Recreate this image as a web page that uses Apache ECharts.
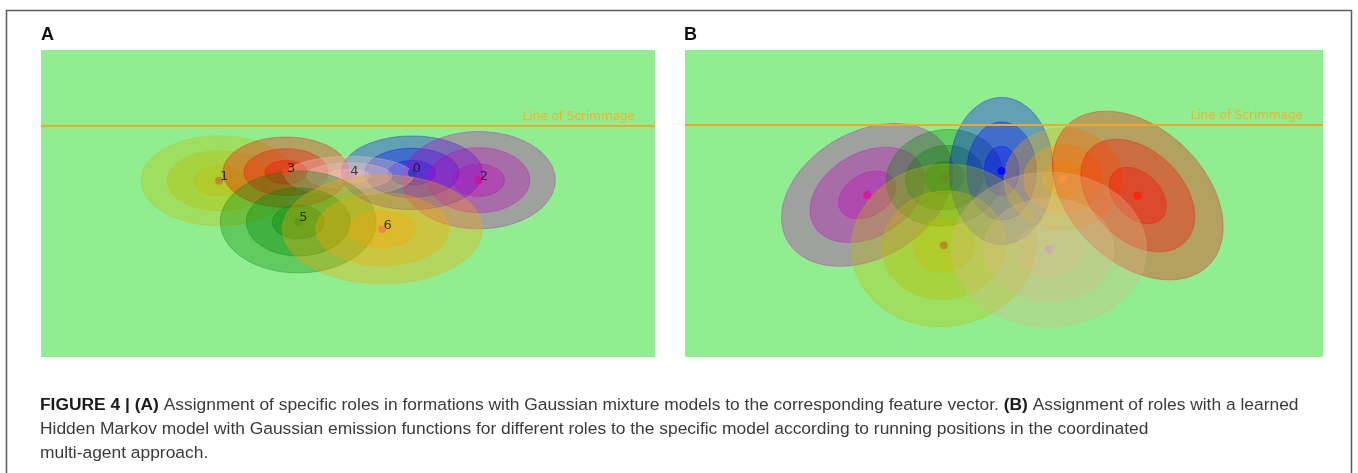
<!DOCTYPE html>
<html>
<head>
<meta charset="utf-8">
<script src="https://cdn.jsdelivr.net/npm/echarts@6/dist/echarts.min.js"></script>
<style>
html, body { margin: 0; padding: 0; background: #ffffff; }
#chart { width: 1358px; height: 473px; }
</style>
</head>
<body>
<div id="chart"></div>
<script>
// Panel A: Gaussian mixture components, one per role (field units)
const rolesA   = ['0', '1', '2', '3', '4', '5', '6'];
const meanXA   = [60.4, 29.0, 71.3, 39.9, 50.2, 41.9, 55.6];
const meanYA   = [30.0, 28.7, 28.8, 30.1, 29.5, 22.0, 20.8];
const sigmaXA  = [3.83, 4.23, 4.15, 3.42, 3.47, 4.23, 5.42];
const sigmaYA  = [2.00, 2.44, 2.64, 1.91, 1.06, 2.77, 2.96];
const angleA   = [0, 0, 0, 0, 0, 0, 0];

// Panel B: Gaussian emissions of the learned HMM states
const statesB  = ['magenta', 'green', 'blue', 'orange', 'red', 'yellow', 'tan'];
const meanXB   = [29.7, 42.3, 51.6, 61.6, 73.8, 42.2, 59.3];
const meanYB   = [26.4, 29.2, 30.3, 29.0, 26.3, 18.2, 17.5];
const sigmaXB  = [5.00, 3.18, 2.82, 3.18, 5.40, 5.05, 5.30];
const sigmaYB  = [3.42, 2.60, 3.99, 2.77, 3.65, 4.40, 4.20];
const angleB   = [30, 10, 0, 0, -44, 8, 0];

// Line of scrimmage (y position in each panel)
const scrimmageY = [37.6, 37.8];
// Contours drawn at 3, 2 and 1 standard deviations
const sigmaLevels = [3, 2, 1];

// Colours
const fillA = ['#0000ff', '#bfbf00', '#bf00bf', '#ff0000', '#ffc0cb', '#008000', '#ffa500'];
const dotA  = ['#3030c0', '#c08030', '#d0109a', '#e05020', '#d8a0b0', '#5a9a10', '#f08050'];
const fillB = ['#bf00bf', '#008000', '#0000ff', '#ffa500', '#ff0000', '#bfbf00', '#deb887'];
const dotB  = ['#e0109a', '#6a8a20', '#0000ff', '#ff9040', '#ff2000', '#c08020', '#d8a0c0'];
const RING_ALPHA = 0.32;

function hexToRgba(hex, a) {
  const n = parseInt(hex.slice(1), 16);
  return 'rgba(' + ((n >> 16) & 255) + ',' + ((n >> 8) & 255) + ',' + (n & 255) + ',' + a + ')';
}

function makeEllipseRenderer(palette) {
  return function (params, api) {
    const cx = api.value(0), cy = api.value(1);
    const sx = api.value(2), sy = api.value(3);
    const ang = api.value(4) * Math.PI / 180;
    const color = palette[params.dataIndex];
    const children = sigmaLevels.map(function (k) {
      const pts = [];
      const n = 120;
      for (let i = 0; i < n; i++) {
        const t = i / n * 2 * Math.PI;
        const ex = k * sx * Math.cos(t), ey = k * sy * Math.sin(t);
        pts.push(api.coord([
          cx + ex * Math.cos(ang) - ey * Math.sin(ang),
          cy + ex * Math.sin(ang) + ey * Math.cos(ang)
        ]));
      }
      return {
        type: 'polygon',
        shape: { points: pts },
        style: { fill: hexToRgba(color, RING_ALPHA), stroke: hexToRgba(color, RING_ALPHA), lineWidth: 1 }
      };
    });
    return { type: 'group', children: children };
  };
}

function ellipseData(mx, my, sx, sy, an) {
  return mx.map(function (v, i) { return [v, my[i], sx[i], sy[i], an[i]]; });
}

function scrimmageLine(y) {
  return {
    silent: true,
    symbol: 'none',
    lineStyle: { color: '#f2a62a', width: 2, type: 'solid' },
    label: {
      show: true,
      position: 'insideEndTop',
      formatter: 'Line of Scrimmage',
      color: '#f0b030',
      fontFamily: 'DejaVu Sans',
      fontSize: 12,
      distance: [20, 3]
    },
    emphasis: { disabled: true },
    data: [{ yAxis: y }]
  };
}

const chart = echarts.init(document.getElementById('chart'), null, { renderer: 'canvas' });

const FONT = 'Liberation Sans, Helvetica, Arial, sans-serif';
const CAPTION_SIZE = '17.4px ';

chart.setOption({
  backgroundColor: '#ffffff',
  animation: false,
  grid: [
    { left: 41, top: 50, width: 614, height: 307, show: true, backgroundColor: '#90ee90', borderWidth: 0 },
    { left: 685, top: 50, width: 638, height: 307, show: true, backgroundColor: '#90ee90', borderWidth: 0 }
  ],
  xAxis: [
    { gridIndex: 0, type: 'value', min: 0, max: 100, show: false },
    { gridIndex: 1, type: 'value', min: 0, max: 104, show: false }
  ],
  yAxis: [
    { gridIndex: 0, type: 'value', min: 0, max: 50, show: false },
    { gridIndex: 1, type: 'value', min: 0, max: 50, show: false }
  ],
  graphic: [
    {
      type: 'rect', z: 100, silent: true,
      shape: { x: 6.5, y: 10.5, width: 1345, height: 520 },
      style: { fill: 'none', stroke: '#5a5a5a', lineWidth: 1.5 }
    },
    {
      type: 'text', left: 41, top: 26,
      style: { text: 'A', font: 'bold 18px ' + FONT, fill: '#111111' }
    },
    {
      type: 'text', left: 684, top: 26,
      style: { text: 'B', font: 'bold 18px ' + FONT, fill: '#111111' }
    },
    {
      type: 'text', left: 40, top: 397,
      style: {
        text: '{b|FIGURE 4 | (A)} Assignment of specific roles in formations with Gaussian mixture models to the corresponding feature vector. {b|(B)} Assignment of roles with a learned',
        font: CAPTION_SIZE + FONT,
        fill: '#3a3a3a',
        rich: { b: { font: 'bold ' + CAPTION_SIZE + FONT, fill: '#1a1a1a' } }
      }
    },
    {
      type: 'text', left: 40, top: 421,
      style: {
        text: 'Hidden Markov model with Gaussian emission functions for different roles to the specific model according to running positions in the coordinated',
        font: CAPTION_SIZE + FONT, fill: '#3a3a3a'
      }
    },
    {
      type: 'text', left: 40, top: 445,
      style: { text: 'multi-agent approach.', font: CAPTION_SIZE + FONT, fill: '#3a3a3a' }
    }
  ],
  series: [
    {
      type: 'custom', xAxisIndex: 0, yAxisIndex: 0,
      renderItem: makeEllipseRenderer(fillA),
      data: ellipseData(meanXA, meanYA, sigmaXA, sigmaYA, angleA),
      markLine: scrimmageLine(scrimmageY[0]),
      silent: true
    },
    {
      type: 'scatter', xAxisIndex: 0, yAxisIndex: 0,
      symbolSize: 8,
      data: rolesA.map(function (r, i) {
        return { name: r, value: [meanXA[i], meanYA[i]], itemStyle: { color: dotA[i], opacity: 0.85 } };
      }),
      label: {
        show: true, position: 'right', distance: -3, offset: [0, -4],
        formatter: '{b}', color: 'rgba(15,15,15,0.9)', fontFamily: 'DejaVu Sans', fontSize: 13
      },
      silent: true, z: 5
    },
    {
      type: 'custom', xAxisIndex: 1, yAxisIndex: 1,
      renderItem: makeEllipseRenderer(fillB),
      data: ellipseData(meanXB, meanYB, sigmaXB, sigmaYB, angleB),
      markLine: scrimmageLine(scrimmageY[1]),
      silent: true
    },
    {
      type: 'scatter', xAxisIndex: 1, yAxisIndex: 1,
      symbolSize: 8,
      data: statesB.map(function (s, i) {
        return { name: s, value: [meanXB[i], meanYB[i]], itemStyle: { color: dotB[i], opacity: 0.85 } };
      }),
      silent: true, z: 5
    }
  ]
});
</script>
</body>
</html>
